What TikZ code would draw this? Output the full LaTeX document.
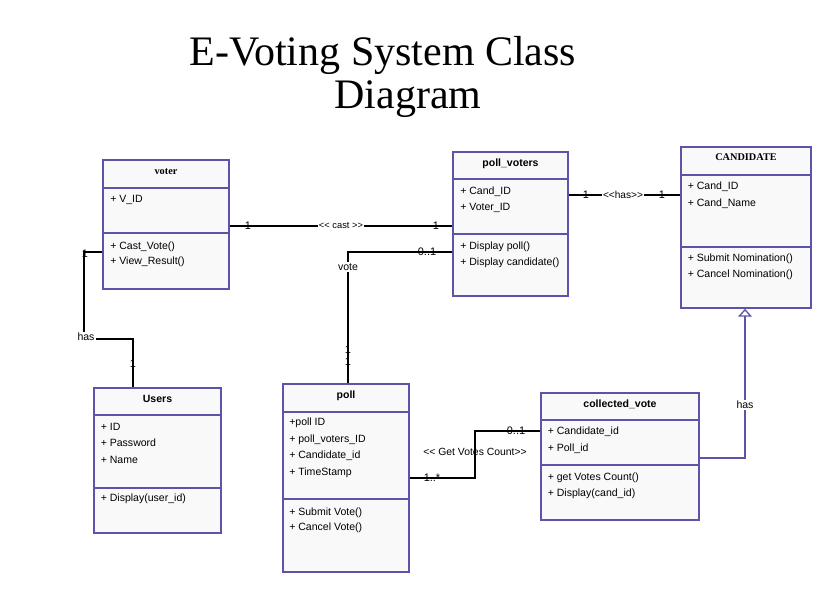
\documentclass[tikz,border=0pt]{standalone}
\usepackage{fontspec}
\setmainfont{Liberation Sans}
\newfontfamily\tnr{Liberation Serif}
\usetikzlibrary{fit,arrows.meta}
\definecolor{umlborder}{RGB}{92,84,170}
\definecolor{umlfill}{RGB}{249,249,249}
\tikzset{
  classbox/.style={draw=umlborder, line width=1.1pt, fill=umlfill, inner sep=0pt},
  divider/.style={draw=umlborder, line width=1.1pt},
  conn/.style={draw=black, line width=0.9pt},
  rowtext/.style={anchor=mid west, inner sep=0pt, font=\fontsize{7.9}{9}\selectfont},
  titletext/.style={anchor=mid, inner sep=0pt, font=\fontsize{7.9}{9}\selectfont\bfseries},
  sertitle/.style={anchor=mid, inner sep=0pt, font=\fontsize{7.7}{9}\selectfont\tnr\bfseries},
  lbl/.style={inner sep=1pt, fill=white, font=\fontsize{7.9}{9}\selectfont},
  mult/.style={inner sep=0pt, font=\fontsize{8.2}{9}\selectfont},
  bigtitle/.style={anchor=base, inner sep=0pt, font=\fontsize{31.5}{36}\selectfont\tnr}
}
\begin{document}
\begin{tikzpicture}[x=0.75pt,y=-0.75pt]
\useasboundingbox (0,0) rectangle (839,593);

% title
\node[bigtitle] (t1) at (383,65) {E-Voting System Class};
\node[bigtitle] (t2) at (408,108) {Diagram};

% voter
\node[classbox, fit={(103,160)(229,289)}] (voter) {};
\draw[divider] (voter.west |- 0,188) -- (voter.east |- 0,188);
\draw[divider] (voter.west |- 0,233) -- (voter.east |- 0,233);
\node[sertitle] (voterT) at (166,171) {voter};
\node[rowtext] (voterA1) at (110,199) {+ V\_ID};
\node[rowtext] (voterM1) at (110,246) {+ Cast\_Vote()};
\node[rowtext] (voterM2) at (110,261) {+ View\_Result()};

% poll_voters
\node[classbox, fit={(453,152)(568,296)}] (pv) {};
\draw[divider] (pv.west |- 0,179) -- (pv.east |- 0,179);
\draw[divider] (pv.west |- 0,234) -- (pv.east |- 0,234);
\node[titletext] (pvT) at (510.5,163) {poll\_voters};
\node[rowtext] (pvA1) at (460,191) {+ Cand\_ID};
\node[rowtext] (pvA2) at (460,207) {+ Voter\_ID};
\node[rowtext] (pvM1) at (460,246) {+ Display poll()};
\node[rowtext] (pvM2) at (460,262) {+ Display candidate()};

% CANDIDATE
\node[classbox, fit={(681,147)(811,308)}] (cand) {};
\draw[divider] (cand.west |- 0,175) -- (cand.east |- 0,175);
\draw[divider] (cand.west |- 0,247) -- (cand.east |- 0,247);
\node[sertitle] (candT) at (746,157) {CANDIDATE};
\node[rowtext] (candA1) at (687.5,186) {+ Cand\_ID};
\node[rowtext] (candA2) at (687.5,203) {+ Cand\_Name};
\node[rowtext] (candM1) at (687.5,258) {+ Submit Nomination()};
\node[rowtext] (candM2) at (687.5,274) {+ Cancel Nomination()};

% Users
\node[classbox, fit={(94,388)(221,533)}] (users) {};
\draw[divider] (users.west |- 0,415) -- (users.east |- 0,415);
\draw[divider] (users.west |- 0,488) -- (users.east |- 0,488);
\node[titletext] (usersT) at (157.5,399) {Users};
\node[rowtext] (usersA1) at (100.5,427) {+ ID};
\node[rowtext] (usersA2) at (100.5,443) {+ Password};
\node[rowtext] (usersA3) at (100.5,460) {+ Name};
\node[rowtext] (usersM1) at (100.5,498) {+ Display(user\_id)};

% poll
\node[classbox, fit={(283,384)(409,572)}] (poll) {};
\draw[divider] (poll.west |- 0,412) -- (poll.east |- 0,412);
\draw[divider] (poll.west |- 0,499) -- (poll.east |- 0,499);
\node[titletext] (pollT) at (346,395) {poll};
\node[rowtext] (pollA1) at (289,422) {+poll ID};
\node[rowtext] (pollA2) at (289,439) {+ poll\_voters\_ID};
\node[rowtext] (pollA3) at (289,455) {+ Candidate\_id};
\node[rowtext] (pollA4) at (289,472) {+ TimeStamp};
\node[rowtext] (pollM1) at (289,512) {+ Submit Vote()};
\node[rowtext] (pollM2) at (289,527) {+ Cancel Vote()};

% collected_vote
\node[classbox, fit={(541,393)(699,520)}] (cv) {};
\draw[divider] (cv.west |- 0,420) -- (cv.east |- 0,420);
\draw[divider] (cv.west |- 0,465) -- (cv.east |- 0,465);
\node[titletext] (cvT) at (620,404) {collected\_vote};
\node[rowtext] (cvA1) at (547.5,431) {+ Candidate\_id};
\node[rowtext] (cvA2) at (547.5,448) {+ Poll\_id};
\node[rowtext] (cvM1) at (547.5,477) {+ get Votes Count()};
\node[rowtext] (cvM2) at (547.5,493) {+ Display(cand\_id)};

% connectors
\draw[conn] (voter.east |- 0,226) -- (pv.west |- 0,226);
\node[lbl, font=\fontsize{7}{8}\selectfont] (castL) at (341,226) {{<}{<} cast {>}{>}};
\node[mult] (castM1) at (248,226) {1};
\node[mult] (castM2) at (436,226) {1};

\draw[conn] (pv.east |- 0,195) -- (cand.west |- 0,195);
\node[lbl, font=\fontsize{7.6}{8}\selectfont] (hasL) at (623,195) {{<}{<}has{>}{>}};
\node[mult] (hasM1) at (586,195) {1};
\node[mult] (hasM2) at (662,195) {1};

\draw[conn] (voter.west |- 0,252) -- (84,252) -- (84,339) -- (133,339) -- (users.north -| 133,0);
\node[lbl] (uhasL) at (86,337) {has};
\node[mult] (uM1) at (85,254) {1};
\node[mult] (uM2) at (133,364) {1};

\draw[conn] (poll.north -| 348,0) -- (348,252) -- (pv.west |- 0,252);
\node[lbl] (voteL) at (348,267) {vote};
\node[mult] (voteM1) at (427,252) {0..1};
\node[mult] (voteM2) at (348,350) {1};
\node[mult] (voteM3) at (348,362) {1};

\draw[conn] (poll.east |- 0,478) -- (475,478) -- (475,431) -- (cv.west |- 0,431);
\node[inner sep=0pt, font=\fontsize{7.8}{9}\selectfont] (gvL) at (475,452) {{<}{<} Get Votes Count{>}{>}};
\node[mult] (gvM1) at (432,478) {1..*};
\node[mult] (gvM2) at (516,431) {0..1};

\draw[draw=umlborder, line width=1pt, -{Triangle[open, width=14*0.75pt, length=8*0.75pt]}]
  (cv.east |- 0,458) -- (745,458) -- (cand.south -| 745,0);
\node[lbl] (ihasL) at (745,405) {has};
\end{tikzpicture}
\end{document}
